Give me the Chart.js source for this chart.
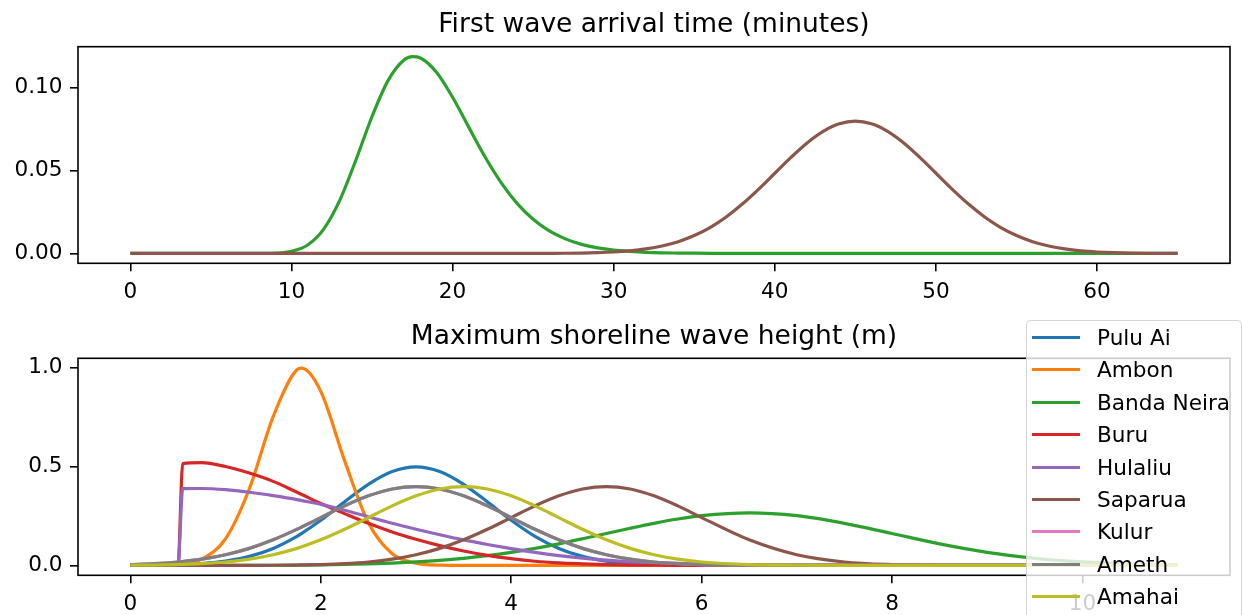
<!DOCTYPE html>
<html>
<head>
<meta charset="utf-8">
<script src="https://cdn.jsdelivr.net/npm/chart.js@4.4.1/dist/chart.umd.min.js"></script>
<style>
html,body{margin:0;padding:0;background:#fff;overflow:hidden;width:1243px;height:615px;}
#wrap{position:relative;width:1243px;height:615px;overflow:hidden;background:#fff;}
canvas{position:absolute;left:0;}
#c1{top:0;}
#c2{top:310px;}
#legend{position:absolute;left:1026px;top:320px;width:216px;height:330px;box-sizing:border-box;
  background:rgba(255,255,255,0.8);border:1.6px solid rgba(204,204,204,0.85);border-radius:5px;
  font-family:'DejaVu Sans';font-size:21.6px;color:#000;}
.item{position:absolute;left:0;width:100%;height:32px;}
.item .h{position:absolute;left:5px;width:48px;height:3px;top:15px;}
.item .t{position:absolute;left:70px;top:6px;white-space:nowrap;line-height:1;}
</style>
</head>
<body>
<div id="wrap">
  <canvas id="c1" width="1243" height="310"></canvas>
  <canvas id="c2" width="1243" height="305"></canvas>
  <div id="legend"></div>
</div>
<script>
// ---------- DATA ----------
const topTitle = 'First wave arrival time (minutes)';
const bottomTitle = 'Maximum shoreline wave height (m)';

const seriesNames = ['Pulu Ai','Ambon','Banda Neira','Buru','Hulaliu','Saparua','Kulur','Ameth','Amahai'];
const seriesColors = ['#1f77b4','#ff7f0e','#2ca02c','#d62728','#9467bd','#8c564b','#e377c2','#7f7f7f','#bcbd22'];

// Top panel: arrival time (minutes)
const topX = [0,1,2,3,4,5,6,7,8,9,10,11,12,13,14,15,16,17,17.5,18,19,20,21,22,23,24,25,26,27,28,29,30,31,32,33,34,35,36,37,38,39,40,41,42,43,44,45,46,47,48,49,50,51,52,53,54,55,56,57,58,59,60,61,62,63,64,65];
const topBandaNeira = [0,0,0,0,0,0,0,0,0.00002,0.0002,0.0013,0.0051,0.0147,0.0322,0.0564,0.0826,0.1044,0.1168,0.1187,0.1179,0.1093,0.0942,0.0762,0.0585,0.0429,0.0302,0.0206,0.0136,0.0088,0.0055,0.0034,0.0021,0.0013,0.0007,0.0004,0.00025,0.00014,0.00008,0.00004,0.00002,0.00001,0,0,0,0,0,0,0,0,0,0,0,0,0,0,0,0,0,0,0,0,0,0,0,0,0,0];
const topSaparua = [0,0,0,0,0,0,0,0,0,0,0,0,0,0,0,0,0,0,0,0,0,0,0,0,0,0.00001,0.00003,0.00006,0.00012,0.00025,0.00048,0.00089,0.00158,0.00272,0.00448,0.00709,0.0108,0.01579,0.02218,0.02995,0.03884,0.04839,0.05794,0.06665,0.07365,0.07821,0.07979,0.07821,0.07365,0.06665,0.05794,0.04839,0.03884,0.02995,0.02218,0.01579,0.0108,0.00709,0.00448,0.00272,0.00158,0.00089,0.00048,0.00025,0.00012,0.00006,0.00003];
const topXTicks = [0,10,20,30,40,50,60];
const topYTicks = [0,0.05,0.10];
const topYLabels = ['0.00','0.05','0.10'];

// Bottom panel: wave height (m)
const bottomX = [0,0.25,0.5,0.55,0.75,1,1.25,1.5,1.75,1.8,2,2.25,2.5,2.75,3,3.25,3.5,3.75,4,4.25,4.5,4.75,5,5.25,5.5,5.75,6,6.5,7,7.5,8,8.5,9,9.5,10,10.5,11];
const puluAi = [0.0004,0.0014,0.0038,0.0046,0.0096,0.0219,0.0456,0.0860,0.1471,0.1619,0.2283,0.3214,0.4102,0.4749,0.4987,0.4749,0.4102,0.3214,0.2283,0.1471,0.0860,0.0456,0.0219,0.0096,0.0038,0.0014,0.0004,0,0,0,0,0,0,0,0,0,0];
const ambon = [0,0.0005,0.0051,0.0076,0.0318,0.1350,0.3876,0.7528,0.9896,0.9974,0.8802,0.5297,0.2157,0.0595,0.0111,0.0014,0.0001,0,0,0,0,0,0,0,0,0,0,0,0,0,0,0,0,0,0,0,0];
const bandaNeira = [0,0.00005,0.0001,0.0001,0.0002,0.0003,0.0006,0.0010,0.0018,0.0020,0.0030,0.0048,0.0076,0.0117,0.0175,0.0254,0.0360,0.0495,0.0663,0.0864,0.1093,0.1347,0.1613,0.1879,0.2130,0.2347,0.2516,0.2660,0.2516,0.2130,0.1613,0.1093,0.0663,0.0360,0.0175,0.0076,0.0030];
const buru = [0,0,0,0.515,0.520,0.500,0.467,0.425,0.370,0.359,0.313,0.262,0.213,0.169,0.132,0.100,0.073,0.051,0.034,0.021,0.013,0.008,0.004,0.002,0.001,0.0005,0,0,0,0,0,0,0,0,0,0,0];
const hulaliu = [0,0,0,0.388,0.389,0.383,0.370,0.353,0.333,0.328,0.309,0.279,0.246,0.213,0.183,0.155,0.129,0.106,0.085,0.066,0.050,0.037,0.027,0.019,0.014,0.010,0.007,0.004,0.002,0.001,0,0,0,0,0,0,0];
const saparua = [0,0,0,0,0,0.0001,0.0004,0.0009,0.0020,0.0024,0.0044,0.0091,0.0175,0.0317,0.0540,0.0863,0.1295,0.1826,0.2420,0.3011,0.3521,0.3867,0.3989,0.3867,0.3521,0.3011,0.2420,0.1295,0.0540,0.0175,0.0044,0.0009,0.0001,0,0,0,0];
const kulur = [0.0044,0.0091,0.0175,0.0198,0.0317,0.0540,0.0863,0.1295,0.1826,0.1942,0.2420,0.3011,0.3521,0.3867,0.3989,0.3867,0.3521,0.3011,0.2420,0.1826,0.1295,0.0863,0.0540,0.0317,0.0175,0.0091,0.0044,0.0009,0.0001,0,0,0,0,0,0,0,0];
const ameth = [0.0044,0.0091,0.0175,0.0198,0.0317,0.0540,0.0863,0.1295,0.1826,0.1942,0.2420,0.3011,0.3521,0.3867,0.3989,0.3867,0.3521,0.3011,0.2420,0.1826,0.1295,0.0863,0.0540,0.0317,0.0175,0.0091,0.0044,0.0009,0.0001,0,0,0,0,0,0,0,0];
const amahai = [0.0009,0.0020,0.0044,0.0051,0.0091,0.0175,0.0317,0.0540,0.0863,0.0940,0.1295,0.1826,0.2420,0.3011,0.3521,0.3867,0.3989,0.3867,0.3521,0.3011,0.2420,0.1826,0.1295,0.0863,0.0540,0.0317,0.0175,0.0044,0.0009,0.0001,0,0,0,0,0,0,0];
const bottomSeries = [puluAi, ambon, bandaNeira, buru, hulaliu, saparua, kulur, ameth, amahai];
const bottomXTicks = [0,2,4,6,8,10];
const bottomYTicks = [0,0.5,1.0];
const bottomYLabels = ['0.0','0.5','1.0'];

// ---------- STYLE / BUILD ----------
const FONT = 'DejaVu Sans';
const LW = 3.2;

const framePlugin = {
  id: 'frame',
  afterDraw(chart) {
    const a = chart.chartArea, ctx = chart.ctx;
    ctx.save();
    ctx.strokeStyle = '#000';
    ctx.lineWidth = 1.6;
    ctx.strokeRect(a.left, a.top, a.right - a.left, a.bottom - a.top);
    ctx.restore();
  }
};

function toPoints(xs, ys) { return xs.map((x, i) => ({ x: x, y: ys[i] })); }

function makeDataset(label, color, xs, ys, order) {
  return { label, data: toPoints(xs, ys), borderColor: color, backgroundColor: color,
    borderWidth: LW, pointRadius: 0, fill: false, cubicInterpolationMode: 'monotone', order };
}

function xScale(min, max, ticks, h) {
  return {
    type: 'linear', min, max,
    afterFit(s) { s.height = h; },
    afterBuildTicks(s) { s.ticks = ticks.map(v => ({ value: v })); },
    grid: { display: true, drawOnChartArea: false, drawTicks: true, tickLength: 8, color: '#000', lineWidth: 1.6 },
    border: { display: false },
    ticks: { color: '#000', font: { family: FONT, size: 21.6 }, padding: 8.5, maxRotation: 0, autoSkip: false,
      callback: (v) => String(v) }
  };
}
function yScale(min, max, ticks, labels) {
  return {
    type: 'linear', min, max,
    afterFit(s) { s.width = 78; },
    afterBuildTicks(s) { s.ticks = ticks.map(v => ({ value: v })); },
    grid: { display: true, drawOnChartArea: false, drawTicks: true, tickLength: 8, color: '#000', lineWidth: 1.6 },
    border: { display: false },
    ticks: { color: '#000', font: { family: FONT, size: 21.6 }, padding: 7.5, autoSkip: false,
      callback: (v, i) => labels[i] }
  };
}
function titleOpt(text, pt, pb) {
  return { display: true, text, fullSize: false, color: '#000',
    font: { family: FONT, size: 26.5, weight: 'normal', lineHeight: 1.2 }, padding: { top: pt, bottom: pb } };
}

const chart1 = new Chart(document.getElementById('c1'), {
  type: 'line',
  data: { datasets: [
    makeDataset('Banda Neira', seriesColors[2], topX, topBandaNeira, 1),
    makeDataset('Saparua', seriesColors[5], topX, topSaparua, 0)
  ] },
  options: {
    responsive: false, animation: false, devicePixelRatio: 1,
    layout: { padding: { left: 0, right: 13, top: 0, bottom: 0 } },
    plugins: { legend: { display: false }, tooltip: { enabled: false }, title: titleOpt(topTitle, 9.2, 5.7) },
    scales: { x: xScale(-3.25, 68.25, topXTicks, 46.7), y: yScale(-0.00594, 0.12472, topYTicks, topYLabels) }
  },
  plugins: [framePlugin]
});

const chart2 = new Chart(document.getElementById('c2'), {
  type: 'line',
  data: { datasets: seriesNames.map((n, i) => makeDataset(n, seriesColors[i], bottomX, bottomSeries[i], seriesNames.length - 1 - i)) },
  options: {
    responsive: false, animation: false, devicePixelRatio: 1,
    layout: { padding: { left: 0, right: 13, top: 0, bottom: 0 } },
    plugins: { legend: { display: false }, tooltip: { enabled: false }, title: titleOpt(bottomTitle, 10.8, 5.7) },
    scales: { x: xScale(-0.55, 11.55, bottomXTicks, 39.7), y: yScale(-0.0499, 1.0473, bottomYTicks, bottomYLabels) }
  },
  plugins: [framePlugin]
});

// Legend built from the bottom chart's datasets
const legendEl = document.getElementById('legend');
chart2.data.datasets.forEach((ds, i) => {
  const row = document.createElement('div');
  row.className = 'item';
  row.style.top = Math.round(32.4 * i) + 'px';
  const h = document.createElement('div');
  h.className = 'h';
  h.style.background = ds.borderColor;
  const t = document.createElement('div');
  t.className = 't';
  t.textContent = ds.label;
  row.appendChild(h); row.appendChild(t);
  legendEl.appendChild(row);
});
</script>
</body>
</html>
